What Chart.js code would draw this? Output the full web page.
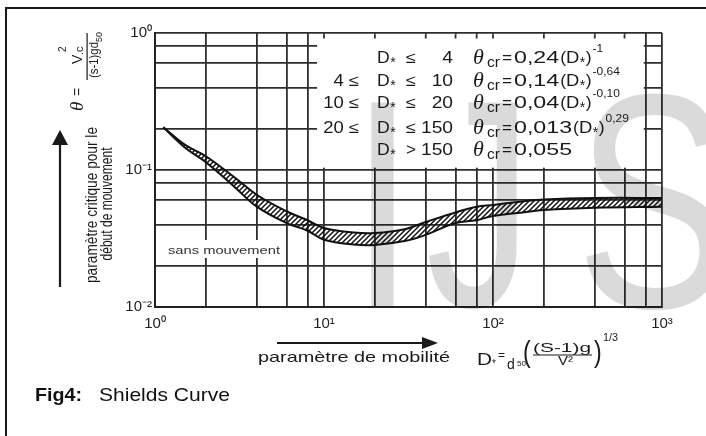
<!DOCTYPE html>
<html>
<head>
<meta charset="utf-8">
<title>Shields Curve</title>
<script src="https://cdn.jsdelivr.net/npm/chart.js@4"></script>
<style>
body { margin: 0; background: #fff; }
#chart { display: block; }
</style>
</head>
<body>
<canvas id="chart" width="706" height="436"></canvas>
<script>
// D* (mobility parameter) and the two edges of the Shields band (theta critical)
const dStar      = [1.12, 1.5, 2, 3, 4, 6, 8, 10, 15, 20, 30, 40, 60, 80, 100, 150, 200, 400, 1000];
const thetaUpper = [0.205, 0.153, 0.126, 0.087, 0.066, 0.050, 0.043, 0.0377, 0.035, 0.0347, 0.037, 0.0417, 0.049, 0.054, 0.0556, 0.059, 0.061, 0.0625, 0.0625];
const thetaLower = [0.205, 0.146, 0.114, 0.074, 0.054, 0.041, 0.036, 0.031, 0.0286, 0.0284, 0.0303, 0.0336, 0.041, 0.043, 0.0462, 0.049, 0.051, 0.053, 0.054];

// grid lines and tick labels
const gridX = [1, 2, 4, 6, 8, 10, 20, 40, 60, 80, 100, 200, 400, 600, 800, 1000];
const gridY = [0.01, 0.02, 0.04, 0.06, 0.08, 0.1, 0.2, 0.4, 0.6, 0.8, 1];
const xTickValues = [1, 10, 100, 1000];
const xTickText = ['10⁰', '10¹', '10²', '10³'];
const yTickValues = [0.01, 0.1, 1];
const yTickText = ['10⁻²', '10⁻¹', '10⁰'];

// panel of formulas
const lowerBound = ['', '4 ≤', '10 ≤', '20 ≤', ''];
const relation = ['≤', '≤', '≤', '≤', '>'];
const upperBound = ['4', '10', '20', '150', '150'];
const coeffText = ['0,24', '0,14', '0,04', '0,013', '0,055'];
const expoText = ['-1', '-0,64', '-0,10', '0,29', ''];

function hatch() {
  const c = document.createElement('canvas');
  c.width = 5; c.height = 5;
  const g = c.getContext('2d');
  g.strokeStyle = '#111';
  g.lineWidth = 1.5;
  g.beginPath();
  g.moveTo(-1, 6); g.lineTo(6, -1);
  g.moveTo(-1, 1); g.lineTo(1, -1);
  g.moveTo(4, 6); g.lineTo(6, 4);
  g.stroke();
  return g.createPattern(c, 'repeat');
}

// text with horizontal stretch (sx) or fitted to a width (w)
function put(ctx, str, x, y, font, opt) {
  opt = opt || {};
  ctx.save();
  ctx.font = font;
  const w = ctx.measureText(str).width;
  const s = opt.w ? opt.w / w : (opt.sx || 1);
  ctx.translate(x, y);
  ctx.scale(s, 1);
  ctx.textAlign = opt.align || 'left';
  ctx.fillText(str, 0, 0);
  ctx.restore();
  return w * s;
}

function inkFit(ctx, ch, L, R, T, B) {
  ctx.save();
  ctx.font = '300px Arial';
  const m = ctx.measureText(ch);
  const l = -m.actualBoundingBoxLeft, r = m.actualBoundingBoxRight;
  const t = -m.actualBoundingBoxAscent, b = m.actualBoundingBoxDescent;
  const sx = (R - L) / (r - l), sy = (B - T) / (b - t);
  ctx.translate(L - l * sx, T - t * sy);
  ctx.scale(sx, sy);
  ctx.fillText(ch, 0, 0);
  ctx.restore();
}

function arrow(ctx, pts) {
  ctx.beginPath();
  ctx.moveTo(pts[0], pts[1]);
  ctx.lineTo(pts[2], pts[3]);
  ctx.lineTo(pts[4], pts[5]);
  ctx.closePath();
  ctx.fill();
}

// "D*" with a small star, returns end x
function dStarText(ctx, x, yb, size, sx) {
  let cx = x + put(ctx, 'D', x, yb, size + 'px Arial', { sx: sx });
  cx += put(ctx, '*', cx + 0.5, yb + size * 0.22, Math.round(size * 0.85) + 'px Arial') + 0.5;
  return cx;
}

const overlay = {
  id: 'overlay',
  beforeDraw(chart) {
    const ctx = chart.ctx;
    ctx.save();
    ctx.fillStyle = '#fff';
    ctx.fillRect(0, 0, chart.width, chart.height);
    ctx.restore();
  },
  beforeDatasetsDraw(chart) {
    const { ctx, scales: { x, y } } = chart;
    ctx.save();
    const l = x.getPixelForValue(9.1), r = x.getPixelForValue(780);
    const t = y.getPixelForValue(1) + 1.5, b = y.getPixelForValue(0.104);
    ctx.fillStyle = '#fff';
    ctx.fillRect(l, t, r - l, b - t);
    ctx.strokeStyle = '#2e2e2e';
    ctx.lineWidth = 1.8;
    gridX.filter(v => v >= 10 && v < 800).forEach(v => {
      const px = x.getPixelForValue(v);
      ctx.beginPath();
      ctx.moveTo(px, t);
      ctx.lineTo(px, t + 4);
      ctx.stroke();
    });
    ctx.fillRect(165, 240, 117, 18);
    ctx.restore();
  },
  afterDraw(chart) {
    const ctx = chart.ctx;
    ctx.save();
    ctx.fillStyle = '#1a1a1a';
    ctx.strokeStyle = '#1a1a1a';

    // frame
    ctx.lineWidth = 2;
    ctx.beginPath();
    ctx.moveTo(6, 436); ctx.lineTo(6, 8); ctx.lineTo(706, 8);
    ctx.stroke();

    // formula panel
    const rowBase = [63, 86, 108, 133, 155];
    rowBase.forEach((yb, i) => {
      if (lowerBound[i]) put(ctx, lowerBound[i], 359, yb, '16px Arial', { align: 'right', sx: 1.15 });
      dStarText(ctx, 377, yb, 16, 1.1);
      put(ctx, relation[i], 406, yb, '16px Arial', { w: 10 });
      put(ctx, upperBound[i], 453, yb, '16px Arial', { align: 'right', sx: 1.2 });
      put(ctx, 'θ', 473, yb + 1, 'italic 22px "Liberation Serif"');
      put(ctx, 'cr', 487, yb + 4, '15px Arial', { w: 13 });
      put(ctx, '=', 502, yb, '16px Arial', { w: 10 });
      let cx = 514 + put(ctx, coeffText[i], 514, yb, '16px Arial', { sx: 1.45 });
      if (expoText[i]) {
        cx += put(ctx, '(', cx + 1, yb, '16px Arial', { sx: 1.1 }) + 1;
        cx = dStarText(ctx, cx, yb, 16, 1.15);
        cx += put(ctx, ')', cx + 0.5, yb, '16px Arial', { sx: 1.1 }) + 0.5;
        put(ctx, expoText[i], cx + 1, yb - 11, '10px Arial', { sx: 1.2 });
      }
    });

    // y-axis title (rotated: (u, v) -> screen (v, -u))
    ctx.save();
    ctx.rotate(-Math.PI / 2);
    put(ctx, 'paramètre critique pour le', -205, 97, '16px Arial', { align: 'center', w: 156 });
    put(ctx, 'début de mouvement', -204, 112, '16px Arial', { align: 'center', w: 113 });
    put(ctx, 'θ', -111, 83, 'italic 19px "Liberation Serif"');
    put(ctx, '=', -96, 82, '14px Arial');
    put(ctx, 'V', -64, 82, '14px Arial');
    put(ctx, '.c', -55, 83, '11px Arial');
    put(ctx, '2', -52, 66, '10px Arial');
    ctx.fillRect(-80, 86.5, 47, 1.2);
    put(ctx, '(s-1)gd', -78, 98, '13px Arial', { w: 36 });
    put(ctx, '50', -42, 102, '9px Arial');
    ctx.restore();

    // arrows
    ctx.lineWidth = 2.2;
    ctx.beginPath(); ctx.moveTo(60, 287); ctx.lineTo(60, 142); ctx.stroke();
    arrow(ctx, [60, 130, 52, 145, 68, 145]);
    ctx.beginPath(); ctx.moveTo(277, 343); ctx.lineTo(425, 343); ctx.stroke();
    arrow(ctx, [438, 343, 422, 337, 422, 349]);

    // x-axis title and definition of D*
    put(ctx, 'paramètre de mobilité', 258, 362, '15px Arial', { w: 192 });
    put(ctx, 'D', 477, 365, '17px Arial', { w: 15 });
    put(ctx, '*', 492, 367, '10px Arial');
    put(ctx, '=', 498, 359, '12px Arial');
    put(ctx, 'd', 507, 369, '14px Arial');
    put(ctx, '50', 517, 366, '8px Arial');
    put(ctx, '(', 523, 362, '29px Arial', { sx: 0.8 });
    put(ctx, '(S-1)g', 533, 352, '12px Arial', { w: 58 });
    ctx.fillRect(533, 354.5, 59, 1);
    put(ctx, 'V²', 558, 365, '12px Arial', { w: 15 });
    put(ctx, ')', 594, 362, '29px Arial', { sx: 0.8 });
    put(ctx, '1/3', 603, 341, '10px Arial', { w: 15 });

    // label inside the plot
    ctx.fillStyle = '#333';
    put(ctx, 'sans mouvement', 168, 254, '11px Arial', { w: 112 });

    // caption
    ctx.fillStyle = '#111';
    put(ctx, 'Fig4:', 35, 401, 'bold 19px Arial', { w: 47 });
    put(ctx, 'Shields Curve', 99, 401, '19px Arial', { w: 131 });

    // watermark
    ctx.globalCompositeOperation = 'multiply';
    ctx.fillStyle = '#dadada';
    inkFit(ctx, 'I', 368, 394, 98, 307);
    inkFit(ctx, 'J', 429, 519, 98, 311);
    inkFit(ctx, 'S', 583, 722, 92, 312);
    ctx.restore();
  }
};

const gridStyle = { color: '#2e2e2e', lineWidth: 1.8, drawTicks: false };
const tickFont = { size: 15, family: 'Arial' };

new Chart(document.getElementById('chart'), {
  type: 'line',
  data: {
    datasets: [
      {
        data: dStar.map((d, i) => ({ x: d, y: thetaUpper[i] })),
        borderColor: '#111',
        borderWidth: 2,
        backgroundColor: hatch(),
        fill: '+1',
        pointRadius: 0,
        tension: 0.4
      },
      {
        data: dStar.map((d, i) => ({ x: d, y: thetaLower[i] })),
        borderColor: '#111',
        borderWidth: 2,
        fill: false,
        pointRadius: 0,
        tension: 0.4
      }
    ]
  },
  options: {
    responsive: false,
    animation: false,
    devicePixelRatio: 1,
    layout: { padding: { left: 0, right: 44, top: 33, bottom: 0 } },
    plugins: { legend: { display: false }, tooltip: { enabled: false } },
    scales: {
      x: {
        type: 'logarithmic',
        min: 1,
        max: 1000,
        afterBuildTicks: s => { s.ticks = gridX.map(v => ({ value: v })); },
        afterFit: s => { s.height = 129; },
        grid: gridStyle,
        border: { color: '#222', width: 2 },
        ticks: {
          autoSkip: false, maxRotation: 0, padding: 8, color: '#1e1e1e', font: tickFont,
          callback: v => { const k = xTickValues.indexOf(v); return k < 0 ? '' : xTickText[k]; }
        }
      },
      y: {
        type: 'logarithmic',
        min: 0.01,
        max: 1,
        afterBuildTicks: s => { s.ticks = gridY.map(v => ({ value: v })); },
        afterFit: s => { s.width = 155; },
        grid: gridStyle,
        border: { color: '#222', width: 2 },
        ticks: {
          autoSkip: false, padding: 3, color: '#1e1e1e', font: tickFont,
          callback: v => { const k = yTickValues.indexOf(v); return k < 0 ? '' : yTickText[k]; }
        }
      }
    }
  },
  plugins: [overlay]
});
</script>
</body>
</html>
